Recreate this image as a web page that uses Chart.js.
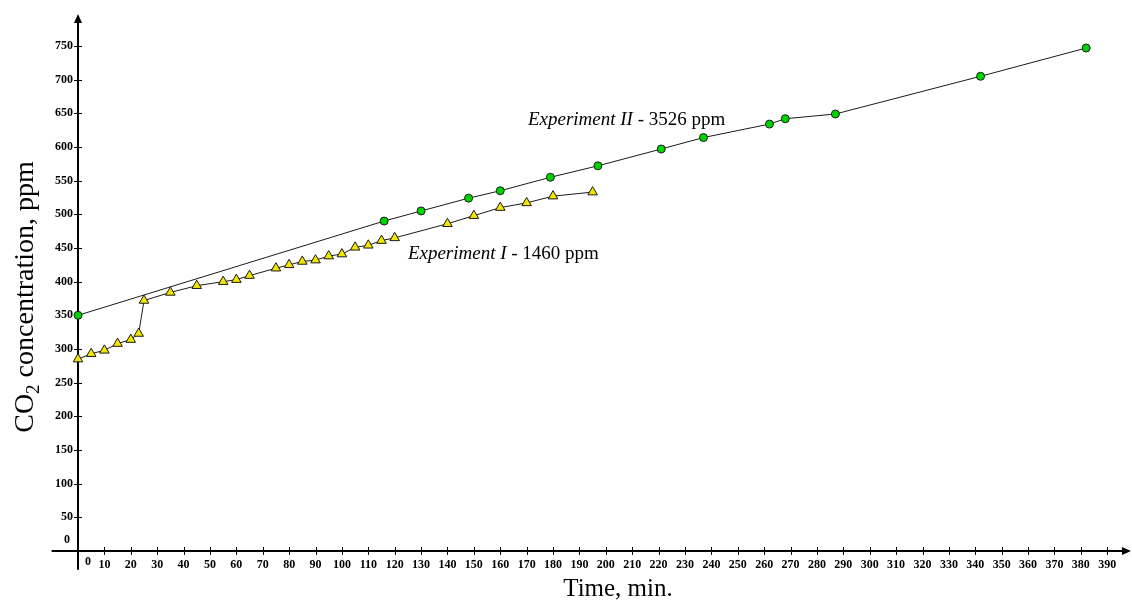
<!DOCTYPE html>
<html lang="en">
<head>
    <meta charset="UTF-8">
    <title>CO2 concentration vs time</title>
    <script src="https://cdn.jsdelivr.net/npm/chart.js"></script>
    <style>
        body {
            margin: 0;
            background: #fff;
        }
    </style>
</head>
<body>
    <canvas id="co2Chart" width="1132" height="600"></canvas>

    <script>
        // Experiment I - 1460 ppm (yellow triangles)
        const exp1Time = [0, 5, 10, 15, 20, 23, 25, 35, 45, 55, 60, 65, 75, 80, 85, 90, 95, 100, 105, 110, 115, 120, 140, 150, 160, 170, 180, 195];
        const exp1Co2 = [285, 293, 298, 308, 314, 323, 372, 384, 394, 400, 403, 409, 420, 425, 430, 432, 438, 441, 451, 454, 461, 465, 486, 498, 510, 517, 527, 533];

        // Experiment II - 3526 ppm (green circles)
        const exp2Time = [0, 116, 130, 148, 160, 179, 197, 221, 237, 262, 268, 287, 342, 382];
        const exp2Co2 = [350, 490, 505, 524, 535, 555, 572, 597, 614, 634, 642, 649, 705, 747];

        // tick values
        const xTicks = [0, 10, 20, 30, 40, 50, 60, 70, 80, 90, 100, 110, 120, 130, 140, 150, 160, 170, 180, 190,
            200, 210, 220, 230, 240, 250, 260, 270, 280, 290, 300, 310, 320, 330, 340, 350, 360, 370, 380, 390];
        const yTicks = [0, 50, 100, 150, 200, 250, 300, 350, 400, 450, 500, 550, 600, 650, 700, 750];

        const xTitle = 'Time, min.';
        const yTitle = ['CO', '2', ' concentration, ppm'];
        const exp1Label = ['Experiment I', ' - 1460 ppm'];
        const exp2Label = ['Experiment II', ' - 3526 ppm'];

        const serif = '"Liberation Serif", "Times New Roman", serif';

        const toPoints = (xs, ys) => xs.map((t, i) => ({ x: t, y: ys[i] }));

        // axes through the origin, with arrows and crossing tick marks
        const axesPlugin = {
            id: 'axes',
            beforeDatasetsDraw(chart) {
                const { ctx, scales: { x, y } } = chart;
                const x0 = x.getPixelForValue(0);
                const y0 = y.getPixelForValue(0);
                ctx.save();
                ctx.strokeStyle = '#000';
                ctx.fillStyle = '#000';
                ctx.lineWidth = 2;
                ctx.beginPath();
                ctx.moveTo(x.getPixelForValue(-10), y0);
                ctx.lineTo(x.right - 6, y0);
                ctx.moveTo(x0, y.getPixelForValue(-28));
                ctx.lineTo(x0, y.top + 6);
                ctx.stroke();

                ctx.beginPath();
                ctx.moveTo(x.right, y0);
                ctx.lineTo(x.right - 9, y0 - 4);
                ctx.lineTo(x.right - 9, y0 + 4);
                ctx.closePath();
                ctx.moveTo(x0, y.top);
                ctx.lineTo(x0 - 4, y.top + 9);
                ctx.lineTo(x0 + 4, y.top + 9);
                ctx.closePath();
                ctx.fill();

                ctx.lineWidth = 1;
                ctx.beginPath();
                x.ticks.forEach(t => {
                    if (t.value === 0) return;
                    const px = Math.round(x.getPixelForValue(t.value)) + 0.5;
                    ctx.moveTo(px, y0 - 4);
                    ctx.lineTo(px, y0 + 4);
                });
                y.ticks.forEach(t => {
                    if (t.value === 0) return;
                    const py = Math.round(y.getPixelForValue(t.value)) + 0.5;
                    ctx.moveTo(x0 - 4, py);
                    ctx.lineTo(x0 + 4, py);
                });
                ctx.stroke();
                ctx.restore();
            },
            afterDraw(chart) {
                const { ctx, scales: { x, y } } = chart;
                const x0 = x.getPixelForValue(0);
                const y0 = y.getPixelForValue(0);
                ctx.save();
                ctx.fillStyle = '#000';

                // zero labels, offset from the origin as in the original
                ctx.font = 'bold 12px ' + serif;
                ctx.textAlign = 'center';
                ctx.textBaseline = 'middle';
                ctx.fillText('0', x0 - 11, y0 - 11);
                ctx.fillText('0', x0 + 10, y0 + 11);

                // x title
                ctx.font = '25px ' + serif;
                ctx.textBaseline = 'alphabetic';
                ctx.fillText(xTitle, 618, 596);

                // y title with subscript
                const big = '28px ' + serif, small = '19px ' + serif;
                ctx.font = big;
                const w1 = ctx.measureText(yTitle[0]).width;
                const w3 = ctx.measureText(yTitle[2]).width;
                ctx.font = small;
                const w2 = ctx.measureText(yTitle[1]).width;
                const total = w1 + w2 + w3;
                ctx.translate(33, 297);
                ctx.rotate(-Math.PI / 2);
                ctx.textAlign = 'left';
                let cx = -total / 2;
                ctx.font = big;
                ctx.fillText(yTitle[0], cx, 0);
                cx += w1;
                ctx.font = small;
                ctx.fillText(yTitle[1], cx, 6);
                cx += w2;
                ctx.font = big;
                ctx.fillText(yTitle[2], cx, 0);
                ctx.setTransform(1, 0, 0, 1, 0, 0);

                // series annotations
                const drawLabel = (parts, tx, ty) => {
                    let px = x.getPixelForValue(tx);
                    const py = y.getPixelForValue(ty);
                    ctx.textAlign = 'left';
                    ctx.font = 'italic 19px ' + serif;
                    ctx.fillText(parts[0], px, py);
                    px += ctx.measureText(parts[0]).width;
                    ctx.font = '19px ' + serif;
                    ctx.fillText(parts[1], px, py);
                };
                drawLabel(exp2Label, 170.5, 633);
                drawLabel(exp1Label, 125, 434);
                ctx.restore();
            }
        };

        const ctx = document.getElementById('co2Chart').getContext('2d');
        new Chart(ctx, {
            type: 'scatter',
            data: {
                datasets: [{
                    label: 'Experiment II - 3526 ppm',
                    data: toPoints(exp2Time, exp2Co2),
                    showLine: true,
                    borderColor: '#1a1a1a',
                    borderWidth: 1,
                    pointStyle: 'circle',
                    pointRadius: 4,
                    pointBackgroundColor: '#00d400',
                    pointBorderColor: '#1a1a1a',
                    pointBorderWidth: 1,
                    tension: 0,
                    clip: false
                }, {
                    label: 'Experiment I - 1460 ppm',
                    data: toPoints(exp1Time, exp1Co2),
                    showLine: true,
                    borderColor: '#1a1a1a',
                    borderWidth: 1,
                    pointStyle: 'triangle',
                    pointRadius: 5.5,
                    pointBackgroundColor: '#f2e600',
                    pointBorderColor: '#1a1a1a',
                    pointBorderWidth: 1,
                    tension: 0,
                    clip: false
                }]
            },
            options: {
                responsive: false,
                devicePixelRatio: 1,
                animation: false,
                layout: {
                    autoPadding: false,
                    padding: { top: 14, right: 1, left: 0, bottom: 0 }
                },
                plugins: {
                    legend: { display: false },
                    tooltip: { enabled: false }
                },
                scales: {
                    x: {
                        type: 'linear',
                        min: 0,
                        max: 399,
                        border: { display: false },
                        grid: { display: false, drawTicks: false },
                        ticks: {
                            autoSkip: false,
                            maxRotation: 0,
                            padding: 7,
                            color: '#000',
                            font: { family: serif, size: 12, weight: 'bold' },
                            callback: v => (v === 0 ? '' : v)
                        },
                        afterBuildTicks: s => {
                            s.ticks = xTicks.map(v => ({ value: v }));
                        },
                        afterFit: s => {
                            s.height = 49;
                            s.paddingLeft = 0;
                            s.paddingRight = 0;
                        }
                    },
                    y: {
                        min: 0,
                        max: 797.5,
                        border: { display: false },
                        grid: { display: false, drawTicks: false },
                        ticks: {
                            padding: 5,
                            color: '#000',
                            font: { family: serif, size: 12, weight: 'bold' },
                            callback: v => (v === 0 ? '' : v)
                        },
                        afterBuildTicks: s => {
                            s.ticks = yTicks.map(v => ({ value: v }));
                        },
                        afterFit: s => {
                            s.width = 78;
                            s.paddingTop = 0;
                            s.paddingBottom = 0;
                        }
                    }
                }
            },
            plugins: [axesPlugin]
        });
    </script>
</body>
</html>
